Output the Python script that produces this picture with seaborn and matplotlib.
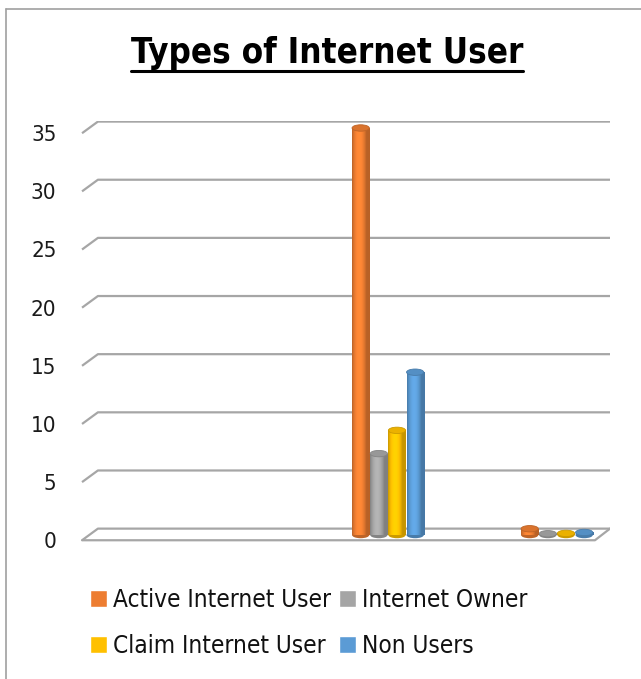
import numpy as np
import pandas as pd
import matplotlib
matplotlib.use("Agg")
import matplotlib.pyplot as plt
import matplotlib.colors as mcolors
from matplotlib.patches import Ellipse
from matplotlib.lines import Line2D
from matplotlib.transforms import ScaledTranslation
import seaborn as sns

# datos
categorias = ["", "Respondents", "Percentage"]
tipos = ["Active Internet User", "Internet Owner", "Claim Internet User", "Non Users"]
active = [np.nan, 35, 0.54]
owner = [np.nan, 7, 0.11]
claim = [np.nan, 9, 0.14]
non_users = [np.nan, 14, 0.22]
colores = ["#ED7D31", "#A5A5A5", "#FFC000", "#5B9BD5"]
y_ticks = [0, 5, 10, 15, 20, 25, 30, 35]

df = pd.DataFrame({
    "categoria": categorias * 4,
    "tipo": np.repeat(tipos, 3),
    "valor": active + owner + claim + non_users,
})

sns.set_style("white")
plt.rcParams["font.family"] = ["DejaVu Sans"]
plt.rcParams["font.stretch"] = "condensed"

fig = plt.figure(figsize=(6.41, 6.79), dpi=100)
ax = fig.add_axes([80 / 641, 137 / 679, 530 / 641, 421 / 679])

sns.barplot(data=df, x="categoria", y="valor", hue="tipo", order=categorias,
            hue_order=tipos, palette=colores, width=0.43, gap=0.05,
            errorbar=None, ax=ax, saturation=1, zorder=3)

# lineas de la cuadricula con un poco de perspectiva
gris = "#A6A6A6"
x_front, x_back, x_right, x_floor = -0.81, -0.716, 2.314, 2.225
for v in y_ticks:
    ax.plot([x_front, x_back, x_right], [v - 0.45, v + 0.55, v + 0.55],
            color=gris, lw=1.6, zorder=1, solid_capstyle="butt")
ax.plot([x_front, x_floor, x_right], [-0.45, -0.45, 0.55], color=gris, lw=1.6, zorder=1)

# efecto cilindro
cap_h = 0.55
for p in list(ax.patches):
    h = p.get_height()
    if not np.isfinite(h) or h <= 0:
        continue
    x0, w = p.get_x(), p.get_width()
    xc = x0 + w / 2
    base = np.array(mcolors.to_rgb(p.get_facecolor()))
    t = np.linspace(0, 1, 60)
    shade = 0.78 + 0.32 * np.sin(np.pi * np.clip(t * 1.25, 0, 1)) ** 0.8
    grad = np.clip(base[None, :] * shade[:, None], 0, 1)[None, :, :]
    p.set_edgecolor("none")
    im = ax.imshow(grad, extent=[x0, x0 + w, 0, h], aspect="auto", zorder=4,
                   interpolation="bilinear")
    im.set_clip_path(p)
    dark = np.clip(base * 0.8, 0, 1)
    ax.add_patch(Ellipse((xc, 0), w, cap_h, facecolor=dark, edgecolor="none", zorder=2.5))
    ax.add_patch(Ellipse((xc, h), w, cap_h, facecolor=base * 0.92, edgecolor=dark,
                         lw=0.6, zorder=5))

ax.set_xlim(-0.822, 2.314)
ax.set_ylim(-0.6, 35.6)
ax.set_xticks([])
ax.set_xlabel("")
ax.set_ylabel("")
ax.set_yticks(y_ticks)
ax.set_yticklabels([str(v) for v in y_ticks], fontsize=16, color="#1a1a1a")
ax.tick_params(axis="y", length=0, pad=17)
for lab in ax.get_yticklabels():
    lab.set_transform(lab.get_transform() + ScaledTranslation(0, -0.052, fig.dpi_scale_trans))
sns.despine(ax=ax, left=True, bottom=True)

# leyenda en dos filas
handles, labels = ax.get_legend_handles_labels()
ax.legend_.remove()
orden = [0, 2, 1, 3]
leg = fig.legend([handles[i] for i in orden], [labels[i] for i in orden], ncol=2,
                 loc="upper left", bbox_to_anchor=(78 / 641, 1 - 576 / 679), frameon=False,
                 fontsize=17.5, handlelength=0.7, handleheight=0.7, handletextpad=0.25,
                 columnspacing=0.3, labelspacing=0.9, borderpad=0)
for txt in leg.get_texts():
    txt.set_color("#111111")

# titulo subrayado
titulo = fig.text(327 / 641, 1 - 53 / 679, "Types of Internet User", ha="center",
                  va="center", fontsize=25, fontweight="bold", color="black")
fig.canvas.draw()
bb = titulo.get_window_extent()
y_sub = (bb.y0 - 1) / fig.bbox.height
fig.add_artist(Line2D([bb.x0 / fig.bbox.width, bb.x1 / fig.bbox.width], [y_sub, y_sub],
                      color="black", lw=2.2))

# borde del area del grafico
borde = "#A0A0A0"
fig.add_artist(Line2D([6 / 641, 1], [1 - 9 / 679, 1 - 9 / 679], color=borde, lw=1.2))
fig.add_artist(Line2D([6 / 641, 6 / 641], [0, 1 - 9 / 679], color=borde, lw=1.2))

fig.savefig("out.png", dpi=100, facecolor="white")
